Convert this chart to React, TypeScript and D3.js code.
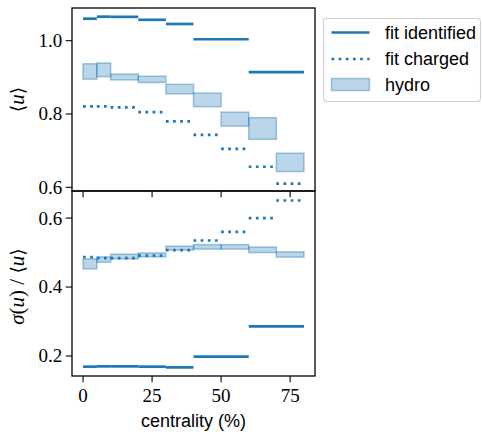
import React from "react";
import * as d3 from "d3";

// ---------- data ----------
// fit identified (solid), bins [lo, hi]
const idBinsLo = [0, 5, 10, 20, 30, 40, 60];
const idBinsHi = [5, 10, 20, 30, 40, 60, 80];
const idMean = [1.060, 1.0655, 1.0650, 1.057, 1.0456, 1.004, 0.914];
const idRatio = [0.169, 0.170, 0.170, 0.169, 0.167, 0.198, 0.286];

// fit charged (dotted) and hydro bands
const chBinsLo = [0, 5, 10, 20, 30, 40, 50, 60, 70];
const chBinsHi = [5, 10, 20, 30, 40, 50, 60, 70, 80];
const chMean = [0.821, 0.821, 0.818, 0.805, 0.780, 0.743, 0.705, 0.656, 0.610];
const chRatio = [0.4866, 0.4837, 0.4837, 0.491, 0.507, 0.535, 0.560, 0.600, 0.651];

const hyMeanLo = [0.895, 0.902, 0.893, 0.886, 0.855, 0.820, 0.767, 0.731, 0.643];
const hyMeanHi = [0.937, 0.939, 0.909, 0.903, 0.881, 0.857, 0.805, 0.790, 0.693];
const hyRatioLo = [0.4526, 0.472, 0.4817, 0.4875, 0.507, 0.510, 0.510, 0.500, 0.4866];
const hyRatioHi = [0.4816, 0.4875, 0.4953, 0.499, 0.5186, 0.523, 0.523, 0.516, 0.502];

const xTicks = [0, 25, 50, 75];
const topTicks = [0.6, 0.8, 1.0];
const botTicks = [0.2, 0.4, 0.6];
const legendLabels = ["fit identified", "fit charged", "hydro"];

const C = "#1f77b4";
const SERIF = "'Liberation Serif', 'DejaVu Serif', serif";
const SANS = "'Liberation Sans', Arial, sans-serif";

export default function App() {
  const L = 72, R = 315;
  const T1 = 8, B1 = 191, T2 = 191, B2 = 376;
  const x = d3.scaleLinear().domain([-4, 84]).range([L, R]);
  const yTop = d3.scaleLinear().domain([0.5899, 1.0892]).range([B1, T1]);
  const yBot = d3.scaleLinear().domain([0.142, 0.6785]).range([B2, T2]);
  const lw = 2.7;
  const tickLen = 6.3;

  const panel = (
    y: d3.ScaleLinear<number, number>,
    idVals: number[],
    chVals: number[],
    lo: number[],
    hi: number[],
    top: number,
    bottom: number,
    clipId: string
  ) => (
    <g>
      <defs>
        <clipPath id={clipId}>
          <rect x={L} y={top} width={R - L} height={bottom - top} />
        </clipPath>
      </defs>
      <g clipPath={`url(#${clipId})`}>
        {chBinsLo.map((b, i) => (
          <rect
            key={"h" + i}
            x={x(b)}
            y={y(hi[i])}
            width={x(chBinsHi[i]) - x(b)}
            height={y(lo[i]) - y(hi[i])}
            fill={C}
            fillOpacity={0.3}
            stroke={C}
            strokeOpacity={0.4}
            strokeWidth={1.5}
          />
        ))}
        {idBinsLo.map((b, i) => (
          <line
            key={"i" + i}
            x1={x(b)}
            x2={x(idBinsHi[i])}
            y1={y(idVals[i])}
            y2={y(idVals[i])}
            stroke={C}
            strokeWidth={lw}
          />
        ))}
        {chBinsLo.map((b, i) => (
          <line
            key={"c" + i}
            x1={x(b)}
            x2={x(chBinsHi[i])}
            y1={y(chVals[i])}
            y2={y(chVals[i])}
            stroke={C}
            strokeWidth={lw}
            strokeDasharray={`${lw} ${lw * 1.65}`}
          />
        ))}
      </g>
    </g>
  );

  const yAxis = (y: d3.ScaleLinear<number, number>, ticks: number[]) =>
    ticks.map((t) => (
      <g key={t}>
        <line x1={L - tickLen} x2={L} y1={y(t)} y2={y(t)} stroke="#000" strokeWidth={1.1} />
        <text
          x={L - tickLen - 3.5}
          y={y(t)}
          dy="0.34em"
          textAnchor="end"
          fontFamily={SERIF}
          fontSize={19}
        >
          {t.toFixed(1)}
        </text>
      </g>
    ));

  const xTickMarks = (y0: number, withLabels: boolean) =>
    xTicks.map((t) => (
      <g key={t}>
        <line x1={x(t)} x2={x(t)} y1={y0} y2={y0 + tickLen} stroke="#000" strokeWidth={1.1} />
        {withLabels && (
          <text x={x(t)} y={y0 + tickLen + 19.5} textAnchor="middle" fontFamily={SERIF} fontSize={19}>
            {t}
          </text>
        )}
      </g>
    ));

  // legend
  const lgX = 323.5, lgY = 18.5, lgW = 157, lgH = 83;
  const rowY = [32.5, 59, 84.5];
  const hx1 = 331.5, hx2 = 369.5, tx = 385;

  const br = "'DejaVu Serif', serif";

  return (
    <svg width={482} height={435} style={{ position: "absolute", left: 0, top: 0 }}>
      <rect width={482} height={435} fill="#fff" />
      {panel(yTop, idMean, chMean, hyMeanLo, hyMeanHi, T1, B1, "clipTop")}
      {panel(yBot, idRatio, chRatio, hyRatioLo, hyRatioHi, T2, B2, "clipBot")}

      {yAxis(yTop, topTicks)}
      {yAxis(yBot, botTicks)}
      {xTickMarks(B1, false)}
      {xTickMarks(B2, true)}

      <rect x={L} y={T1} width={R - L} height={B1 - T1} fill="none" stroke="#000" strokeWidth={1.3} />
      <rect x={L} y={T2} width={R - L} height={B2 - T2} fill="none" stroke="#000" strokeWidth={1.3} />

      {/* y labels */}
      <text
        transform={`translate(24, ${(T1 + B1) / 2}) rotate(-90)`}
        textAnchor="middle"
        fontSize={21}
        fontFamily={SERIF}
      >
        <tspan fontFamily={br} fontSize={19} fontWeight={300}>⟨</tspan>
        <tspan fontStyle="italic">u</tspan>
        <tspan fontFamily={br} fontSize={19} fontWeight={300}>⟩</tspan>
      </text>
      <text
        transform={`translate(24, ${(T2 + B2) / 2 + 3}) rotate(-90)`}
        textAnchor="middle"
        fontSize={21}
        fontFamily={SERIF}
      >
        <tspan fontStyle="italic">σ</tspan>
        <tspan>(</tspan>
        <tspan fontStyle="italic">u</tspan>
        <tspan>)</tspan>
        <tspan> / </tspan>
        <tspan fontFamily={br} fontSize={19} fontWeight={300}>⟨</tspan>
        <tspan fontStyle="italic">u</tspan>
        <tspan fontFamily={br} fontSize={19} fontWeight={300}>⟩</tspan>
      </text>

      {/* x label */}
      <text x={(L + R) / 2} y={427} textAnchor="middle" fontFamily={SANS} fontSize={18}>
        centrality (%)
      </text>

      {/* legend */}
      <rect
        x={lgX}
        y={lgY}
        width={lgW}
        height={lgH}
        rx={3}
        fill="#fff"
        fillOpacity={0.8}
        stroke="#d0d0d0"
        strokeWidth={1.1}
      />
      <line x1={hx1} x2={hx2} y1={rowY[0]} y2={rowY[0]} stroke={C} strokeWidth={lw} />
      <line
        x1={hx1}
        x2={hx2}
        y1={rowY[1]}
        y2={rowY[1]}
        stroke={C}
        strokeWidth={lw}
        strokeDasharray={`${lw} ${lw * 1.65}`}
      />
      <rect
        x={hx1}
        y={rowY[2] - 6}
        width={hx2 - hx1}
        height={12}
        fill={C}
        fillOpacity={0.3}
        stroke={C}
        strokeOpacity={0.4}
        strokeWidth={1.5}
      />
      {legendLabels.map((lab, i) => (
        <text key={lab} x={tx} y={rowY[i]} dy="0.35em" fontFamily={SANS} fontSize={18}>
          {lab}
        </text>
      ))}
    </svg>
  );
}
